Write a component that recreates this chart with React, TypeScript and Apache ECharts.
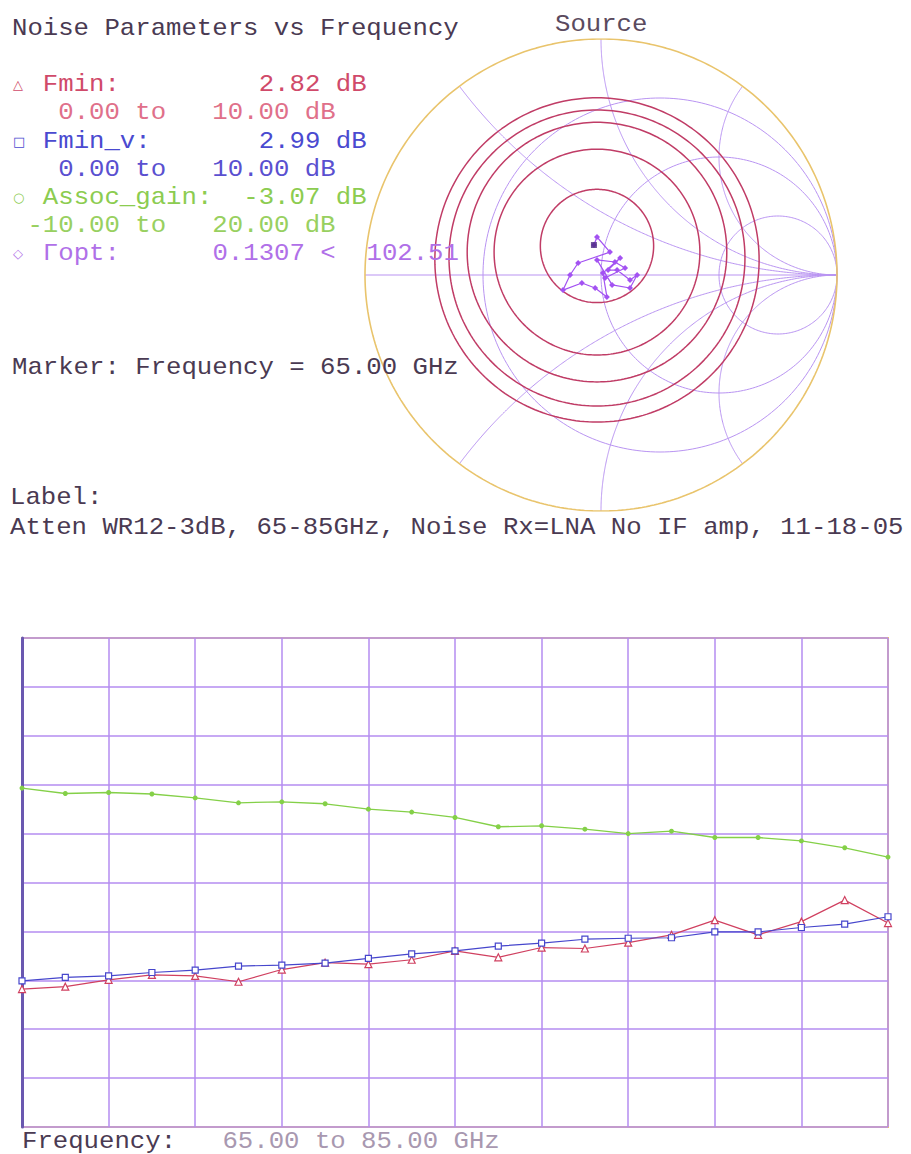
import React, { useEffect, useRef } from "react";
import * as echarts from "echarts";

// ---------- data ----------
const frequencies = [65, 66, 67, 68, 69, 70, 71, 72, 73, 74, 75, 76, 77, 78, 79, 80, 81, 82, 83, 84, 85];
const fminDb = [2.82, 2.87, 3.01, 3.11, 3.09, 2.97, 3.22, 3.36, 3.33, 3.42, 3.6, 3.47, 3.67, 3.65, 3.77, 3.93, 4.23, 3.93, 4.2, 4.64, 4.17];
const fminVDb = [2.99, 3.06, 3.09, 3.16, 3.21, 3.29, 3.31, 3.35, 3.45, 3.54, 3.6, 3.7, 3.76, 3.84, 3.86, 3.87, 3.99, 3.99, 4.08, 4.15, 4.3];
const assocGainDb = [-3.07, -3.18, -3.16, -3.19, -3.27, -3.37, -3.35, -3.39, -3.5, -3.56, -3.67, -3.86, -3.84, -3.91, -4.0, -3.95, -4.08, -4.08, -4.15, -4.29, -4.48];

// Gamma_opt trajectory (real, imaginary) per frequency
const gammaOptRe = [-0.03, -0.017, 0.038, -0.097, -0.131, -0.161, -0.081, -0.025, 0.025, 0.008, 0.081, 0.03, 0.068, 0.123, 0.153, 0.123, 0.047, -0.017, 0.059, 0.102, 0.017];
const gammaOptIm = [0.127, 0.161, 0.097, 0.051, 0.0, -0.064, -0.034, -0.055, -0.093, 0.008, 0.072, 0.021, 0.021, -0.021, 0.0, -0.055, -0.042, 0.064, 0.055, 0.03, -0.013];

// constant-noise circles at the marker frequency
const noiseCircleRe = [-0.017, -0.017, -0.017, -0.017, -0.017];
const noiseCircleIm = [0.123, 0.097, 0.097, 0.072, 0.064];
const noiseCircleRadius = [0.24, 0.436, 0.55, 0.627, 0.687];

// Smith chart grid
const smithResistances = [1 / 3, 1, 3];
const smithReactances = [0.5, 1, 2, -0.5, -1, -2];

// axis ranges
const freqMin = 65, freqMax = 85, freqStep = 2;
const fminAxisMin = 0, fminAxisMax = 10, fminStep = 1;
const gainAxisMin = -10, gainAxisMax = 0;

// ---------- helpers ----------
const circlePts = (cx: number, cy: number, r: number, n = 240) => {
  const pts: number[][] = [];
  for (let i = 0; i <= n; i++) {
    const t = (i / n) * Math.PI * 2;
    pts.push([cx + r * Math.cos(t), cy + r * Math.sin(t)]);
  }
  return pts;
};
const reactancePts = (x: number, n = 300) => {
  const pts: number[][] = [];
  for (let i = 0; i <= n; i++) {
    const s = (i / n) * 0.9995;
    const r = s / (1 - s);
    // gamma = (z-1)/(z+1), z = r + jx
    const a = r - 1, b = x, c = r + 1, d = x;
    const den = c * c + d * d;
    pts.push([(a * c + b * d) / den, (b * c - a * d) / den]);
  }
  pts.push([1, 0]);
  return pts;
};

const MONO = "Liberation Mono";
const P = 15.42;
const X0 = 12;

export default function App() {
  const ref = useRef<HTMLDivElement>(null);
  useEffect(() => {
    if (!ref.current) return;
    const chart = echarts.init(ref.current, undefined, { renderer: "svg" });

    const gridColor = "#b58cf0";
    const smithSeries: any[] = [];
    smithResistances.forEach((r) => {
      smithSeries.push({
        type: "line", xAxisIndex: 1, yAxisIndex: 2, silent: true, symbol: "none",
        lineStyle: { color: "#b994f2", width: 1 }, z: 1,
        data: circlePts(r / (1 + r), 0, 1 / (1 + r)),
      });
    });
    smithReactances.forEach((x) => {
      smithSeries.push({
        type: "line", xAxisIndex: 1, yAxisIndex: 2, silent: true, symbol: "none",
        lineStyle: { color: "#b994f2", width: 1 }, z: 1,
        data: reactancePts(x),
      });
    });
    smithSeries.push({
      type: "line", xAxisIndex: 1, yAxisIndex: 2, silent: true, symbol: "none",
      lineStyle: { color: "#b994f2", width: 1.2 }, z: 1,
      data: [[-1, 0], [1, 0]],
    });
    smithSeries.push({
      type: "line", xAxisIndex: 1, yAxisIndex: 2, silent: true, symbol: "none",
      lineStyle: { color: "#e9c46c", width: 1.6 }, z: 2,
      data: circlePts(0, 0, 1, 360),
    });
    noiseCircleRadius.forEach((rad, i) => {
      smithSeries.push({
        type: "line", xAxisIndex: 1, yAxisIndex: 2, silent: true, symbol: "none",
        lineStyle: { color: "#c03c66", width: 1.5 }, z: 3,
        data: circlePts(noiseCircleRe[i], noiseCircleIm[i], rad),
      });
    });
    smithSeries.push({
      type: "line", xAxisIndex: 1, yAxisIndex: 2, silent: true,
      symbol: "diamond", symbolSize: 6, z: 4,
      lineStyle: { color: "#a352f2", width: 1.2 },
      itemStyle: { color: "#a352f2" },
      data: gammaOptRe.map((re, i) => [re, gammaOptIm[i]]),
    });
    smithSeries.push({
      type: "scatter", xAxisIndex: 1, yAxisIndex: 2, silent: true,
      symbol: "rect", symbolSize: 6, z: 5,
      itemStyle: { color: "#4a2a80" },
      data: [[gammaOptRe[0], gammaOptIm[0]]],
    });

    const txt = (text: string, x: number, y: number, fill: string, extra: any = {}) => ({
      type: "text", x, y, scaleX: 1.07, z: 100,
      style: { text, fill, font: `24px "${MONO}"`, verticalAlign: "middle", align: "left", ...extra },
    });
    const sym = (text: string, y: number, fill: string) => ({
      type: "text", x: X0 + 1, y, z: 100,
      style: { text, fill, font: `13px "DejaVu Sans"`, verticalAlign: "middle", align: "left" },
    });
    const col = (c: number) => X0 + c * P;

    const graphics: any[] = [
      txt("Noise Parameters vs Frequency", X0, 28, "#4a3a52"),
      txt("Source", 555, 24, "#5a4a5e"),
      sym("\u25B3", 84, "#d04a6a"),
      txt("Fmin:", col(2), 84, "#d04a6a"),
      txt("2.82 dB", col(16), 84, "#d04a6a"),
      txt("0.00 to   10.00 dB", col(3), 112, "#e0708a"),
      sym("\u25A1", 141, "#4a4ad0"),
      txt("Fmin_v:", col(2), 141, "#4a4ad0"),
      txt("2.99 dB", col(16), 141, "#4a4ad0"),
      txt("0.00 to   10.00 dB", col(3), 169, "#5a50d0"),
      sym("\u25CB", 197, "#8ccc50"),
      txt("Assoc_gain:", col(2), 197, "#8ccc50"),
      txt("-3.07 dB", col(15), 197, "#8ccc50"),
      txt("-10.00 to   20.00 dB", col(1), 225, "#98d060"),
      sym("\u25C7", 253, "#b070e8"),
      txt("\u0393opt:", col(2), 253, "#b070e8"),
      txt("0.1307 <  102.51", col(13), 253, "#b070e8"),
      txt("Marker: Frequency = 65.00 GHz", X0, 367, "#4a3a52"),
      txt("Label:", 10, 497, "#4a3a52"),
      txt("Atten WR12-3dB, 65-85GHz, Noise Rx=LNA No IF amp, 11-18-05", 10, 527, "#4a3a52"),
      txt("Frequency:", 22, 1141, "#4a3a52"),
      txt("65.00 to 85.00 GHz", 22 + 13 * P, 1141, "#a898b0"),
    ];

    chart.setOption({
      animation: false,
      backgroundColor: "#ffffff",
      grid: [
        { left: 22, top: 638, width: 866, height: 489, show: true, borderColor: "#f0c864", borderWidth: 2, backgroundColor: "transparent" },
        { left: 365, top: 39, width: 472, height: 472, show: false },
      ],
      xAxis: [
        {
          type: "value", gridIndex: 0, min: freqMin, max: freqMax, interval: freqStep,
          axisLine: { show: false }, axisTick: { show: false }, axisLabel: { show: false },
          splitLine: { show: true, lineStyle: { color: gridColor, width: 1.5 } },
        },
        {
          type: "value", gridIndex: 1, min: -1, max: 1, show: false,
          splitLine: { show: false },
        },
      ],
      yAxis: [
        {
          type: "value", gridIndex: 0, min: fminAxisMin, max: fminAxisMax, interval: fminStep,
          axisLine: { show: true, onZero: false, lineStyle: { color: "#6a58b0", width: 3 } },
          axisTick: { show: false }, axisLabel: { show: false },
          splitLine: { show: true, lineStyle: { color: gridColor, width: 1.5 } },
        },
        {
          type: "value", gridIndex: 0, min: gainAxisMin, max: gainAxisMax, show: false,
          splitLine: { show: false },
        },
        {
          type: "value", gridIndex: 1, min: -1, max: 1, show: false,
          splitLine: { show: false },
        },
      ],
      series: [
        {
          name: "Assoc_gain", type: "line", xAxisIndex: 0, yAxisIndex: 1, z: 5,
          symbol: "circle", symbolSize: 5,
          lineStyle: { color: "#84d048", width: 1.3 },
          itemStyle: { color: "#84d048" },
          data: frequencies.map((f, i) => [f, assocGainDb[i]]),
        },
        {
          name: "Fmin", type: "line", xAxisIndex: 0, yAxisIndex: 0, z: 5,
          symbol: "triangle", symbolSize: 7,
          lineStyle: { color: "#d04060", width: 1.2 },
          itemStyle: { color: "#ffffff", borderColor: "#d04060", borderWidth: 1.2 },
          data: frequencies.map((f, i) => [f, fminDb[i]]),
        },
        {
          name: "Fmin_v", type: "line", xAxisIndex: 0, yAxisIndex: 0, z: 6,
          symbol: "rect", symbolSize: 6,
          lineStyle: { color: "#4646cc", width: 1.2 },
          itemStyle: { color: "#ffffff", borderColor: "#4646cc", borderWidth: 1.2 },
          data: frequencies.map((f, i) => [f, fminVDb[i]]),
        },
        ...smithSeries,
      ],
      graphic: graphics,
    });
    return () => chart.dispose();
  }, []);
  return <div ref={ref} style={{ position: "absolute", left: 0, top: 0, width: 911, height: 1154 }} />;
}
